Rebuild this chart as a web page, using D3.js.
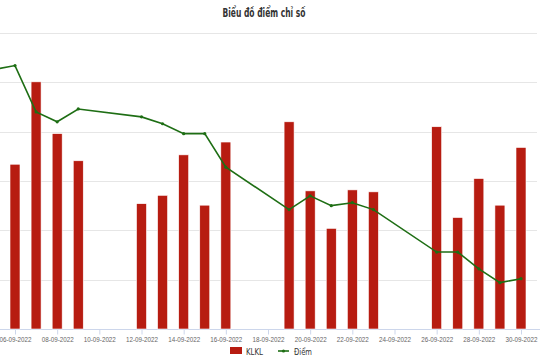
<!DOCTYPE html>
<html>
<head>
<meta charset="utf-8">
<script src="https://cdn.jsdelivr.net/npm/d3@7"></script>
<style>
  body { margin: 0; background: #fff; }
  svg { display: block; font-family: "Liberation Sans Narrow", "DejaVu Sans Condensed", "Roboto", sans-serif; }
</style>
</head>
<body>
<div id="chart_div"></div>
<script>
// data
var barDates = ['05-09-2022', '06-09-2022', '07-09-2022', '08-09-2022', '09-09-2022',
  '12-09-2022', '13-09-2022', '14-09-2022', '15-09-2022', '16-09-2022',
  '19-09-2022', '20-09-2022', '21-09-2022', '22-09-2022', '23-09-2022',
  '26-09-2022', '27-09-2022', '28-09-2022', '29-09-2022', '30-09-2022'];
var klkl = [null, 334, 501, 396, 341,
  254, 271, 353, 251, 379,
  420, 280, 204, 282, 278,
  410, 226, 305, 251, 368];
var diem = [1263, 1267, 1220, 1210, 1223,
  1215, 1208, 1198, 1198, 1164,
  1121, 1135, 1125, 1128, 1121,
  1078, 1078, 1061, 1047, 1051];
var tickDates = ['06-09-2022', '08-09-2022', '10-09-2022', '12-09-2022', '14-09-2022',
  '16-09-2022', '18-09-2022', '20-09-2022', '22-09-2022', '24-09-2022',
  '26-09-2022', '28-09-2022', '30-09-2022'];

var W = 540, H = 360;
var top_y = 33, bottom_y = 329;
var bar_color = '#b71c11';
var line_color = '#1e6e14';

var parse = d3.utcParse('%d-%m-%Y');
var fmt = d3.utcFormat('%d-%m-%Y');

var x = d3.scaleUtc()
  .domain([parse('06-09-2022'), parse('30-09-2022')])
  .range([15, 521]);
var yBar = d3.scaleLinear().domain([0, 600]).range([bottom_y, top_y]);
var yLine = d3.scaleLinear().domain([1000, 1300]).range([bottom_y, top_y]);

var svg = d3.select('#chart_div')
  .append('svg')
  .attr('width', W)
  .attr('height', H);

// title
svg.append('text')
  .attr('x', 264)
  .attr('y', 17)
  .attr('text-anchor', 'middle')
  .attr('font-size', 11.5)
  .attr('font-weight', 'bold')
  .attr('fill', '#333')
  .attr('textLength', 83)
  .attr('lengthAdjust', 'spacingAndGlyphs')
  .text('Biểu đồ điểm chỉ số');

// grid
svg.append('g')
  .selectAll('line')
  .data(yBar.ticks(6).filter(function (d) { return d > 0; }))
  .enter().append('line')
  .attr('x1', 0)
  .attr('x2', 537)
  .attr('y1', function (d) { return Math.round(yBar(d)) + 0.5; })
  .attr('y2', function (d) { return Math.round(yBar(d)) + 0.5; })
  .attr('stroke', '#e6e6e6')
  .attr('stroke-width', 1);

// x axis
var xAxis = d3.axisBottom(x)
  .tickValues(tickDates.map(parse))
  .tickFormat(fmt)
  .tickSizeInner(5)
  .tickSizeOuter(0);

var gx = svg.append('g')
  .attr('transform', 'translate(0,' + (bottom_y + 0.5) + ')')
  .call(xAxis);
gx.select('.domain').attr('stroke', '#ccd6eb').attr('d', 'M0,0H540');
gx.selectAll('.tick line').attr('stroke', '#ccd6eb');
gx.selectAll('.tick text')
  .attr('fill', '#666')
  .attr('font-size', 8)
  .attr('y', 7)
  .attr('dy', '0.71em')
  .attr('textLength', 32)
  .attr('lengthAdjust', 'spacingAndGlyphs');

// bars
var bw = 10;
svg.append('g')
  .selectAll('rect')
  .data(barDates.map(function (d, i) { return {date: parse(d), v: klkl[i]}; })
    .filter(function (d) { return d.v != null; }))
  .enter().append('rect')
  .attr('x', function (d) { return x(d.date) - bw / 2; })
  .attr('y', function (d) { return yBar(d.v); })
  .attr('width', bw)
  .attr('height', function (d) { return bottom_y - yBar(d.v); })
  .attr('fill', bar_color)
  .attr('stroke', '#fff')
  .attr('stroke-width', 0.6);

// line
var pts = barDates.map(function (d, i) { return {date: parse(d), v: diem[i]}; });
var line = d3.line()
  .x(function (d) { return x(d.date); })
  .y(function (d) { return yLine(d.v); });

svg.append('path')
  .datum(pts)
  .attr('d', line)
  .attr('fill', 'none')
  .attr('stroke', line_color)
  .attr('stroke-width', 1.6);

svg.append('g')
  .selectAll('circle')
  .data(pts)
  .enter().append('circle')
  .attr('cx', function (d) { return x(d.date); })
  .attr('cy', function (d) { return yLine(d.v); })
  .attr('r', 1.6)
  .attr('fill', line_color);

// legend
var leg = svg.append('g');
leg.append('rect')
  .attr('x', 230).attr('y', 347)
  .attr('width', 12).attr('height', 7)
  .attr('fill', bar_color);
leg.append('text')
  .attr('x', 246).attr('y', 354.5)
  .attr('font-size', 9)
  .attr('fill', '#333')
  .attr('textLength', 17)
  .attr('lengthAdjust', 'spacingAndGlyphs')
  .text('KLKL');
leg.append('line')
  .attr('x1', 278).attr('x2', 289)
  .attr('y1', 351).attr('y2', 351)
  .attr('stroke', line_color)
  .attr('stroke-width', 1.6);
leg.append('circle')
  .attr('cx', 283.5).attr('cy', 351).attr('r', 1.6)
  .attr('fill', line_color);
leg.append('text')
  .attr('x', 294).attr('y', 354.5)
  .attr('font-size', 9)
  .attr('fill', '#333')
  .attr('textLength', 18)
  .attr('lengthAdjust', 'spacingAndGlyphs')
  .text('Điểm');
</script>
</body>
</html>
